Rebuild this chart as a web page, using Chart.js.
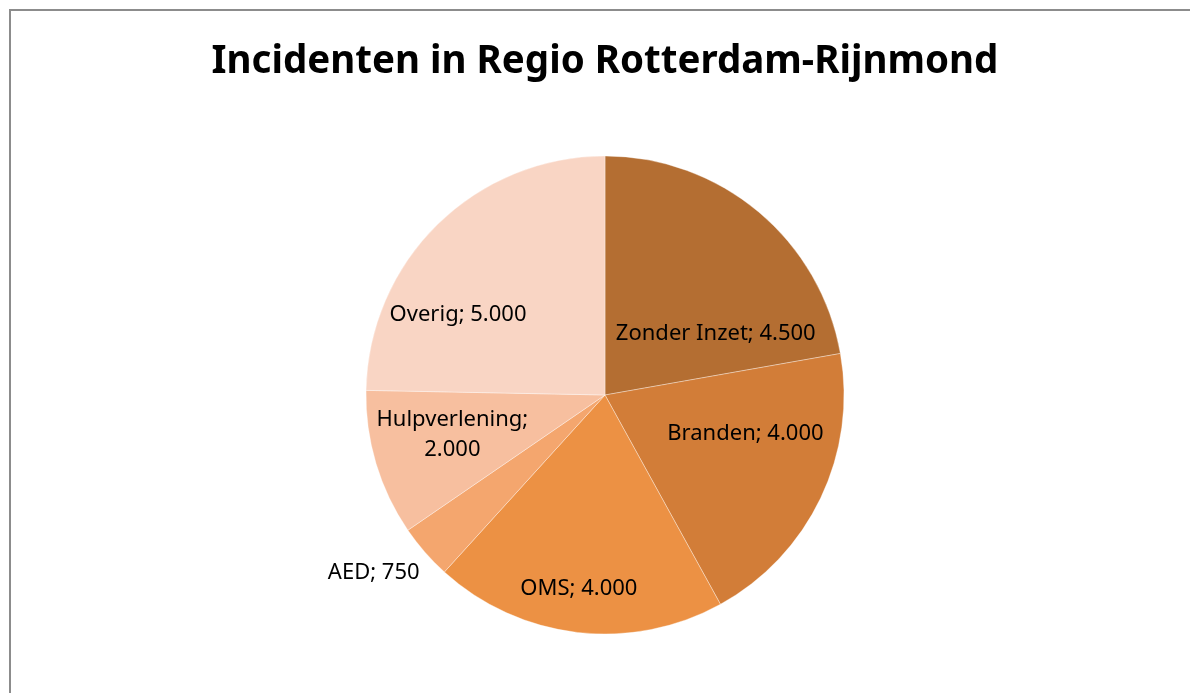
<!DOCTYPE html>
<html>
<head>
<meta charset="utf-8">
<script src="https://cdn.jsdelivr.net/npm/chart.js@4/dist/chart.umd.min.js"></script>
<style>
  html, body { margin: 0; padding: 0; background: #fff; overflow: hidden; }
  #frame { position: absolute; left: 9px; top: 9px; width: 1200px; height: 700px; border: 2px solid #8c8c8c; }
  #wrap { position: absolute; left: 0; top: 0; width: 1190px; height: 693px; }
</style>
</head>
<body>
<div id="frame"></div>
<div id="wrap"><canvas id="chart"></canvas></div>
<script>
const categories = ["Zonder Inzet", "Branden", "OMS", "AED", "Hulpverlening", "Overig"];
const incidents = [4500, 4000, 4000, 750, 2000, 5000];
const sliceColors = ["#b46e32", "#d27d38", "#ec9144", "#f4a66e", "#f7bf9f", "#f9d5c4"];

// label placement per slice: angle shift (deg) from slice middle, distance as fraction of radius
const labelPlacement = [
  { shift: 21, dist: 0.53 },
  { shift: -10, dist: 0.61 },
  { shift: 1, dist: 0.82 },
  { shift: 3.6, dist: 1.22 },
  { shift: 2, dist: 0.66, wrap: true },
  { shift: -17, dist: 0.7 }
];

const sliceLabels = {
  id: "sliceLabels",
  afterDatasetsDraw(chart) {
    const ctx = chart.ctx;
    const meta = chart.getDatasetMeta(0);
    ctx.save();
    ctx.font = "22px 'Noto Sans'";
    ctx.fillStyle = "#000";
    ctx.textAlign = "center";
    ctx.textBaseline = "middle";
    meta.data.forEach((arc, i) => {
      const p = labelPlacement[i];
      const mid = (arc.startAngle + arc.endAngle) / 2 + p.shift * Math.PI / 180;
      const r = arc.outerRadius * p.dist;
      const x = arc.x + Math.cos(mid) * r;
      const y = arc.y + Math.sin(mid) * r;
      const value = incidents[i].toLocaleString("nl-NL");
      if (p.wrap) {
        ctx.fillText(categories[i] + ";", x, y - 15);
        ctx.fillText(value, x, y + 15);
      } else {
        ctx.fillText(categories[i] + "; " + value, x, y);
      }
    });
    ctx.restore();
  }
};

new Chart(document.getElementById("chart"), {
  type: "pie",
  data: {
    labels: categories,
    datasets: [{
      data: incidents,
      backgroundColor: sliceColors,
      borderColor: "rgba(255,255,255,0.35)",
      borderWidth: 1
    }]
  },
  options: {
    responsive: true,
    maintainAspectRatio: false,
    animation: false,
    radius: 239,
    layout: { padding: { left: 20, right: 0, top: 0, bottom: 59 } },
    plugins: {
      legend: { display: false },
      tooltip: { enabled: false },
      title: {
        display: true,
        text: "Incidenten in Regio Rotterdam-Rijnmond",
        color: "#000",
        font: { family: "'Noto Sans'", size: 38.5, weight: 700, lineHeight: 1.2 },
        padding: { top: 39, bottom: 70.8 }
      }
    }
  },
  plugins: [sliceLabels]
});
</script>
</body>
</html>
